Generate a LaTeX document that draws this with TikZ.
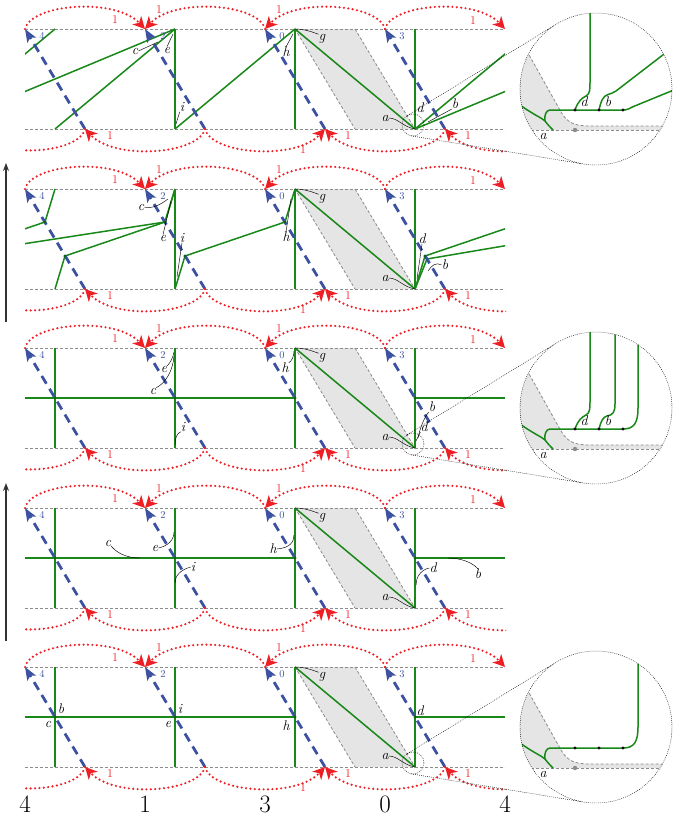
\documentclass[tikz,border=0pt]{standalone}
\usetikzlibrary{arrows.meta}
\definecolor{myred}{RGB}{237,30,36}
\definecolor{myblue}{RGB}{60,82,160}
\definecolor{mygreen}{RGB}{24,136,24}
\definecolor{myshade}{RGB}{229,229,229}
\definecolor{myline}{RGB}{140,140,140}
\tikzset{
  gridline/.style={myline, line width=0.8pt, dash pattern=on 3pt off 2pt},
  redarc/.style={myred, line width=2.4pt, dash pattern=on 0pt off 4.4pt, line cap=round},
  redtip/.style={-{Stealth[length=12pt,width=12pt,inset=3.5pt]}},
  bluearr/.style={myblue, line width=2.8pt, dash pattern=on 9pt off 6pt, -{Stealth[length=13pt,width=10pt,inset=3pt]}},
  grn/.style={mygreen, line width=1.5pt},
  lead/.style={black, line width=0.45pt},
  lbl/.style={font=\fontsize{14}{14}\selectfont\itshape, inner sep=0pt},
  rlbl/.style={text=myred, font=\fontsize{12}{12}\selectfont, inner sep=0pt},
  blbl/.style={text=myblue, font=\fontsize{10.5}{10.5}\selectfont, inner sep=0pt},
  gdot/.style={circle, fill=mygreen!70!black, inner sep=0pt, minimum size=3.2pt},
  kdot/.style={circle, fill=black, inner sep=0pt, minimum size=3.4pt},
  zoomline/.style={black, line width=0.45pt, dash pattern=on 0.8pt off 1.2pt},
  bigarrow/.style={black!80, line width=1.3pt, -{Stealth[length=8pt,width=6pt]}},
  numlbl/.style={font=\fontsize{25}{25}\selectfont, inner sep=0pt, anchor=base},
}
\newcommand{\panelbase}[1]{%
  \coordinate (#1T0) at (25,0); \coordinate (#1T1) at (145,0); \coordinate (#1T2) at (265,0);
  \coordinate (#1T3) at (385,0); \coordinate (#1T4) at (505,0);
  \coordinate (#1B0) at (85,100); \coordinate (#1B1) at (205,100); \coordinate (#1B2) at (325,100);
  \coordinate (#1B3) at (445,100); \coordinate (#1B4) at (565,100); \coordinate (#1BM) at (-35,100);
  \coordinate (#1BL) at (25,100); \coordinate (#1BR) at (505,100);
  \coordinate (#1A) at (415,100); \coordinate (#1G) at (295,0);
  \coordinate (#1S1) at (355,0); \coordinate (#1S2) at (355,100);
  \fill[myshade] (#1G) -- (#1S1) -- (#1A) -- (#1S2) -- cycle;
  \draw[gridline] (#1G) -- (#1S2) (#1S1) -- (#1A);
  \draw[gridline] (#1T0) -- (#1T4) (#1BL) -- (#1BR);
}
\newcommand{\paneltop}[1]{%
  \draw[bluearr] (#1B0) -- (#1T0);
  \draw[bluearr] (#1B1) -- (#1T1);
  \draw[bluearr] (#1B2) -- (#1T2);
  \draw[bluearr] (#1B3) -- (#1T3);
  \begin{scope}
  \clip (24,-40) rectangle (506,140);
  \draw[redarc, redtip] (#1T0) .. controls (31,-25) and (115,-32) .. (#1T1);
  \draw[redarc, redtip] (#1T2) .. controls (259,-25) and (175,-32) .. (#1T1);
  \draw[redarc, redtip] (#1T3) .. controls (379,-25) and (295,-32) .. (#1T2);
  \draw[redarc, redtip] (#1T3) .. controls (391,-25) and (475,-32) .. (#1T4);
  \draw[redarc, redtip] (#1B1) .. controls (199,125) and (115,132) .. (#1B0);
  \draw[redarc, redtip] (#1B1) .. controls (211,125) and (295,132) .. (#1B2);
  \draw[redarc, redtip] (#1B3) .. controls (439,125) and (355,132) .. (#1B2);
  \draw[redarc, redtip] (#1B4) .. controls (559,125) and (475,132) .. (#1B3);
  \draw[redarc] (#1B0) .. controls (79,125) and (-5,132) .. (#1BM);
  \end{scope}
  \node[blbl] (#1n4) at (42,7) {4};
  \node[blbl] (#1n2) at (163,7) {2};
  \node[blbl] (#1n0) at (282,7) {0};
  \node[blbl] (#1n3) at (402,7) {3};
  \node[rlbl] (#1r1) at (115,-9) {1};
  \node[rlbl] (#1r2) at (159,-19) {1};
  \node[rlbl] (#1r3) at (279,-19) {1};
  \node[rlbl] (#1r4) at (473,-8) {1};
  \node[rlbl] (#1r5) at (110,107) {1};
  \node[rlbl] (#1r6) at (303,121) {1};
  \node[rlbl] (#1r7) at (348,107) {1};
  \node[rlbl] (#1r8) at (468,107) {1};
  \node[lbl] (#1lg) at (322,10) {g};
  \node[lbl] (#1la) at (385,89) {a};
  \draw[lead] (#1G) .. controls (305,0) and (312,3) .. (#1lg.north west);
  \draw[lead] (#1la.east) .. controls (398,89) and (403,98) .. (#1A);
}
\newcommand{\zoomframe}[2]{%
  \coordinate (#1zc) at (413,96);
  \coordinate (#1u1) at (407.3,86.6); \coordinate (#1u2) at (556.3,-4.8);
  \coordinate (#1w1) at (411.2,106.9); \coordinate (#1w2) at (583.7,135);
  \draw[zoomline] (#1zc) circle (11pt);
  \draw[zoomline] (#1u1) -- (#1u2);
  \draw[zoomline] (#1w1) -- (#1w2);
  \begin{scope}[shift={(596,100)}]
    \coordinate (#1Z) at (0,-40);
    \fill[white] (#1Z) circle (76pt);
    \begin{scope}
      \clip (#1Z) circle (76pt);
      \fill[myshade] (-101,-135) -- (-35,-17) .. controls (-28,-5) and (-20,-3) .. (-5,-3) -- (90,-3) -- (90,1) -- (-100,1) -- cycle;
      \draw[gridline] (-101,-135) -- (-35,-17) .. controls (-28,-5) and (-20,-3) .. (-5,-3) -- (90,-3);
      \draw[gridline] (-90,1) -- (90,1);
      \fill[myline] (-21,1) circle (2.2pt);
      \draw[grn] (-76,-24) .. controls (-62,-14) and (-54,-11) .. (-51,-8) .. controls (-48,-4) and (-45,-1) .. (-43,1);
      \draw[grn] (27,-19) -- (-46,-19) .. controls (-50,-19) and (-52,-13) .. (-51,-8);
      #2
    \end{scope}
    \draw[zoomline] (#1Z) circle (76pt);
    \node[lbl] (#1za) at (-53,7) {a};
  \end{scope}
}
\newcommand{\gridpanel}[1]{%
  \draw[grn] (55,0) -- (55,100) (175,0) -- (175,100) (295,0) -- (295,100) (415,0) -- (#1A);
  \draw[grn] (25,50) -- (295,50);
  \draw[grn] (415,50) -- (505,50);
  \draw[grn] (#1G) -- (#1A);
}
\newcommand{\griddots}[1]{%
  \node[gdot] (#1x1) at (55,50) {}; \node[gdot] (#1x2) at (175,50) {};
  \node[gdot] (#1x3) at (295,50) {}; \node[gdot] (#1x4) at (415,50) {};
}
\begin{document}
\begin{tikzpicture}[x=1pt,y=-1pt]
\useasboundingbox (0,0) rectangle (678,817);

% ---------------- panel 1
\begin{scope}[shift={(0,29)}]
\panelbase{a}
\draw[grn] (175,0) -- (175,100) (295,0) -- (295,100) (415,0) -- (aA);
\draw[grn] (55,100) -- (175,0);
\draw[grn] (175,100) -- (295,0);
\draw[grn] (aG) -- (aA);
\begin{scope}\clip (25,-5) rectangle (505,105);
\draw[grn] (aA) -- (535,0) (-65,100) -- (55,0);
\draw[grn] (aA) -- (655,0) (-65,100) -- (175,0);
\end{scope}
\paneltop{a}
\node[lbl] (ac) at (135,22) {c}; \draw[lead] (ac.east) -- (158,13);
\node[lbl] (ae) at (167,21) {e}; \draw[lead] (ae.north) -- (173,5);
\node[lbl] (ai) at (182,78) {i}; \draw[lead] (ai.south west) -- (176,95);
\node[lbl] (ah) at (286,23) {h}; \draw[lead] (ah.north) -- (293,5);
\node[lbl] (ad) at (420,79) {d};
\node[lbl] (ab) at (455,75) {b}; \draw[lead] (ab.south west) -- (428,93);
\zoomframe{a}{%
  \draw[grn] (-21,-19) .. controls (-18,-28) and (-14,-31) .. (-10,-33) .. controls (-6,-35) and (-6,-40) .. (-6,-46) -- (-6,-130);
  \draw[grn] (3,-19) .. controls (5,-28) and (7,-33) .. (12,-34.5) .. controls (15,-35.5) and (17,-36) .. (20,-38) -- (85,-88);
  \draw[grn] (27,-19) .. controls (31,-19) and (34,-20.5) .. (37,-22.3) -- (90,-44);
  \node[kdot] (azd1) at (-21,-19) {}; \node[kdot] (azd2) at (3,-19) {}; \node[kdot] (azd3) at (27,-19) {};
  \node[lbl] (azd) at (-12,-27) {d}; \node[lbl] (azb) at (12,-27) {b};
}
\end{scope}

% ---------------- panel 2
\begin{scope}[shift={(0,189)}]
\panelbase{b}
\draw[grn] (175,0) -- (175,100) (295,0) -- (295,100) (415,0) -- (bA);
\draw[grn] (55,100) -- (65,67) -- (165,33) -- (175,0);
\draw[grn] (175,100) -- (185,67) -- (285,33) -- (295,0);
\draw[grn] (bG) -- (bA);
\begin{scope}\clip (25,-5) rectangle (505,105);
\draw[grn] (bA) -- (425,67) -- (525,33) (-55,67) -- (45,33) -- (55,0);
\draw[grn] (bA) -- (427,70) -- (645,33) (-55,67) -- (165,33) -- (175,0);
\end{scope}
\paneltop{b}
\foreach \xx/\yy/\k in {45/33/1,65/67/2,165/33/3,185/67/4,285/33/5,425/67/6}{
  \node[gdot] (bp\k) at (\xx,\yy) {};
}
\node[lbl] (bc) at (141,18) {c}; \draw[lead] (bc.east) .. controls (152,20) and (160,16) .. (168,10);
\node[lbl] (be) at (163,49) {e}; \draw[lead] (be.north) -- (171,12);
\node[lbl] (bi) at (182,49) {i}; \draw[lead] (bi.south) -- (177,88);
\node[lbl] (bh) at (286,48) {h}; \draw[lead] (bh.north) -- (291,10);
\node[lbl] (bd) at (422,50) {d}; \draw[lead] (bd.south) -- (417,90);
\node[lbl] (bb) at (445,76) {b}; \draw[lead] (bb.west) .. controls (436,73) and (432,76) .. (428,82);
\end{scope}

% ---------------- panel 3
\begin{scope}[shift={(0,348)}]
\panelbase{c}
\gridpanel{c}
\paneltop{c}
\griddots{c}
\node[lbl] (ce) at (164,21) {e}; \draw[lead] (ce.north east) .. controls (170,15) and (173,10) .. (174,4);
\node[lbl] (cc) at (153,43) {c}; \draw[lead] (cc.north east) .. controls (166,35) and (173,22) .. (174,8);
\node[lbl] (ci) at (183,79) {i}; \draw[lead] (ci.south west) .. controls (177,85) and (175,90) .. (175,97);
\node[lbl] (ch) at (285,20) {h}; \draw[lead] (ch.north east) .. controls (292,13) and (294,8) .. (294,3);
\node[lbl] (cb) at (432,59) {b}; \draw[lead] (cb.south west) .. controls (424,70) and (420,80) .. (418,90);
\node[lbl] (cd) at (424,79) {d}; \draw[lead] (cd.south west) -- (416,93);
\zoomframe{c}{%
  \draw[grn] (-21,-19) .. controls (-18,-28) and (-14,-31) .. (-10,-33) .. controls (-6,-35) and (-6,-40) .. (-6,-46) -- (-6,-130);
  \draw[grn] (3,-19) .. controls (5,-27) and (7,-31) .. (11,-32) .. controls (17,-33) and (19,-36) .. (19,-44) -- (19,-130);
  \draw[grn] (27,-19) .. controls (38,-19) and (42,-25) .. (42,-40) -- (42,-130);
  \node[kdot] (czd1) at (-21,-19) {}; \node[kdot] (czd2) at (3,-19) {}; \node[kdot] (czd3) at (27,-19) {};
  \node[lbl] (czd) at (-12,-27) {d}; \node[lbl] (czb) at (12,-27) {b};
}
\end{scope}

% ---------------- panel 4
\begin{scope}[shift={(0,508)}]
\panelbase{d}
\gridpanel{d}
\paneltop{d}
\griddots{d}
\node[lbl] (dc) at (108,35) {c}; \draw[lead] (dc.south east) .. controls (118,46) and (128,50) .. (140,50);
\node[lbl] (de) at (155,40) {e}; \draw[lead] (de.east) .. controls (168,38) and (174,32) .. (174,24);
\node[lbl] (di) at (193,59) {i}; \draw[lead] (di.west) .. controls (180,62) and (175,68) .. (175,75);
\node[lbl] (dh) at (273,41) {h}; \draw[lead] (dh.east) .. controls (290,40) and (294,34) .. (294,27);
\node[lbl] (dd) at (433,60) {d}; \draw[lead] (dd.west) .. controls (420,62) and (416,70) .. (416,77);
\node[lbl] (db) at (478,66) {b}; \draw[lead] (db.north) .. controls (472,54) and (460,50) .. (448,50);
\end{scope}

% ---------------- panel 5
\begin{scope}[shift={(0,667)}]
\panelbase{e}
\gridpanel{e}
\paneltop{e}
\griddots{e}
\node[lbl] (eb) at (61,42) {b}; \node[lbl] (ec) at (48,57) {c};
\node[lbl] (ei) at (180,42) {i}; \node[lbl] (ee) at (168,57) {e};
\node[lbl] (eh) at (286,59) {h}; \node[lbl] (ed) at (420,44) {d};
\zoomframe{e}{%
  \draw[grn] (27,-19) .. controls (38,-19) and (42,-25) .. (42,-40) -- (42,-130);
  \node[kdot] (ezd1) at (-21,-19) {}; \node[kdot] (ezd2) at (3,-19) {}; \node[kdot] (ezd3) at (27,-19) {};
}
\end{scope}

% side arrows
\coordinate (s1a) at (6,322); \coordinate (s1b) at (6,163);
\coordinate (s2a) at (6,641); \coordinate (s2b) at (6,483);
\draw[bigarrow] (s1a) -- (s1b);
\draw[bigarrow] (s2a) -- (s2b);

% bottom numbers
\node[numlbl] (m1) at (25,812) {4};
\node[numlbl] (m2) at (145,812) {1};
\node[numlbl] (m3) at (265,812) {3};
\node[numlbl] (m4) at (385,812) {0};
\node[numlbl] (m5) at (505,812) {4};
\end{tikzpicture}
\end{document}
